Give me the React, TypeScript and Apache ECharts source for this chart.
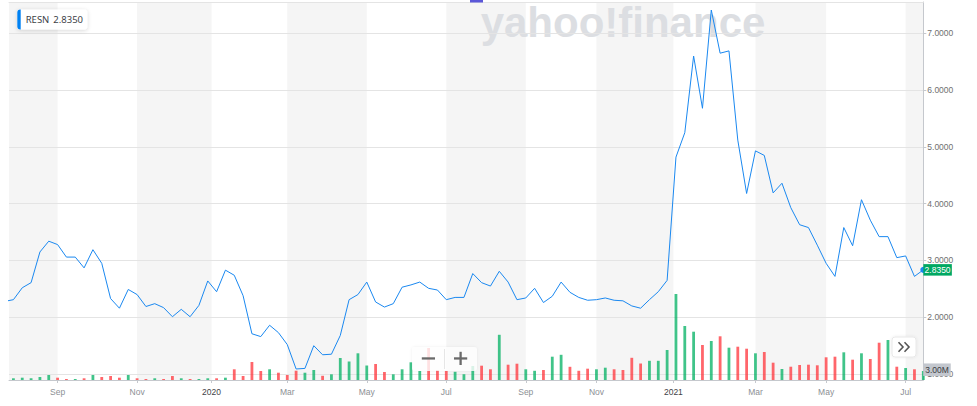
import React, { useEffect, useRef } from 'react';
import * as echarts from 'echarts';

const symbolName = 'RESN';

// weekly closes, index 0 = week just left of the visible range
const prices = [
  2.28,
  2.31, 2.52, 2.61, 3.15, 3.34, 3.28, 3.06, 3.06, 2.87, 3.19,
  2.95, 2.33, 2.16, 2.49, 2.40, 2.19, 2.24, 2.17, 2.01, 2.14,
  2.01, 2.21, 2.64, 2.45, 2.83, 2.74, 2.38, 1.71, 1.66, 1.86,
  1.73, 1.52, 1.09, 1.10, 1.50, 1.34, 1.35, 1.68, 2.31, 2.40,
  2.62, 2.27, 2.18, 2.24, 2.53, 2.57, 2.62, 2.51, 2.48, 2.31,
  2.35, 2.35, 2.77, 2.61, 2.55, 2.81, 2.62, 2.31, 2.34, 2.51,
  2.26, 2.37, 2.62, 2.44, 2.35, 2.30, 2.31, 2.34, 2.30, 2.29,
  2.20, 2.16, 2.31, 2.45, 2.65, 4.82, 5.25, 6.60, 5.68, 7.41,
  6.65, 6.69, 5.12, 4.18, 4.93, 4.85, 4.19, 4.36, 3.93, 3.63,
  3.58, 3.27, 2.95, 2.72, 3.58, 3.26, 4.07, 3.71, 3.42, 3.42,
  3.05, 3.08, 2.72, 2.835,
];

// weekly volume, millions
const volumes = [
  1.0,
  0.57, 0.77, 0.57, 1.0, 1.67, 0.77, 0.33, 0.33, 0.57,
  1.67, 1.0, 1.33, 0.77, 1.67, 0.57, 0.33, 0.57, 0.33, 1.33,
  0.57, 0.33, 0.33, 0.57, 0.57, 0.77, 3.57, 1.33, 6.0, 3.0,
  3.57, 2.43, 1.67, 3.1, 2.43, 3.33, 1.4, 1.9, 7.33, 6.17,
  8.9, 4.83, 5.33, 2.67, 1.9, 3.57, 5.9, 3.0, 10.67, 3.33,
  3.07, 2.73, 1.93, 4.67, 4.77, 3.57, 15.07, 5.1, 5.43, 3.57,
  3.07, 3.33, 7.77, 8.4, 4.4, 3.07, 3.77, 3.57, 4.1, 3.57,
  3.33, 7.4, 5.5, 6.4, 6.4, 10.0, 28.67, 18.0, 16.1, 11.67,
  13.0, 14.57, 10.77, 11.1, 10.43, 8.9, 9.33, 5.77, 3.67, 4.43,
  5.0, 5.1, 4.9, 7.57, 7.77, 9.23, 6.77, 8.9, 7.0, 12.43,
  13.33, 4.43, 4.0, 3.57, 3.0,
];

// u = up week (green volume), d = down week (red volume)
const moves = [
  'duuuuuddud', 'uddduddudd', 'uduududddd', 'uddduuduuu', 'uudduuuudd',
  'duuudduddu', 'uduuddduud', 'ddduuuuuud', 'ududduddud', 'dddddududd', 'ududu',
].join('').split('');

const xTickPos = [6, 15, 23.43, 32, 41, 50, 59, 67, 75.71, 85, 93, 102];
const xTickLabels = ['Sep', 'Nov', '2020', 'Mar', 'May', 'Jul', 'Sep', 'Nov', '2021', 'Mar', 'May', 'Jul'];
const yTicks = [1, 2, 3, 4, 5, 6, 7];

const X_MIN = 0.5;
const X_MAX = 104;
const FONT = '"Liberation Sans", Arial, sans-serif';
const UP = 'rgba(0,176,97,0.75)';
const DOWN = 'rgba(255,51,58,0.75)';
const LINE = '#1a88f0';

export default function App() {
  const ref = useRef<HTMLDivElement>(null);

  useEffect(() => {
    if (!ref.current) return;
    const chart = echarts.init(ref.current, null, { renderer: 'svg' });
    const lastIdx = prices.length - 1;
    const lastPrice = prices[lastIdx];
    const lastVol = volumes[lastIdx];

    const linePts: any[] = prices.map((p, i) =>
      i === lastIdx
        ? { value: [i, p], symbol: 'circle', symbolSize: 6, itemStyle: { color: LINE } }
        : [i, p]
    );
    const barPts = volumes
      .map((v, i) => ({
        value: [i, v],
        itemStyle: { color: moves[i] === 'u' ? UP : DOWN },
      }))
      .filter((d) => d.value[0] >= X_MIN);

    // shaded bands: every other period between month ticks, starting at the left edge
    const edges = [X_MIN, ...xTickPos, X_MAX];
    const bands: any[] = [];
    for (let i = 0; i + 1 < edges.length; i += 2) {
      bands.push([{ xAxis: edges[i] }, { xAxis: edges[i + 1] }]);
    }

    const option: any = {
      animation: false,
      grid: { left: 9, right: 53.7, top: 2, bottom: 26, containLabel: false },
      xAxis: [
        {
          type: 'value',
          min: X_MIN,
          max: X_MAX,
          axisLine: { show: true, lineStyle: { color: '#c5c8cd', width: 1 } },
          axisTick: { show: true, customValues: xTickPos, length: 3, lineStyle: { color: '#c5c8cd' } },
          axisLabel: {
            customValues: xTickPos,
            margin: 7,
            formatter: (v: number) => {
              const i = xTickPos.findIndex((t) => Math.abs(t - v) < 0.01);
              const s = i >= 0 ? xTickLabels[i] : '';
              return /^\d{4}$/.test(s) ? `{y|${s}}` : `{m|${s}}`;
            },
            rich: {
              m: { color: '#8c8f94', fontSize: 8.5, fontFamily: FONT },
              y: { color: '#3f4246', fontSize: 8.5, fontFamily: FONT },
            },
          },
          splitLine: { show: false },
        },
        {
          type: 'value',
          position: 'top',
          min: X_MIN,
          max: X_MAX,
          axisLine: { show: true, lineStyle: { color: '#e4e4e4' } },
          axisTick: { show: false },
          axisLabel: { show: false },
          splitLine: { show: false },
        },
      ],
      yAxis: [
        {
          type: 'value',
          position: 'right',
          min: 0.896,
          max: 7.551,
          axisLine: { show: true, lineStyle: { color: '#c5c8cd' } },
          axisTick: { show: true, customValues: yTicks, length: 3, lineStyle: { color: '#c5c8cd' } },
          axisLabel: {
            customValues: yTicks,
            formatter: (v: number) => v.toFixed(4),
            color: '#707070',
            fontSize: 8.5,
            fontFamily: FONT,
            margin: 4,
          },
          splitLine: { show: true, lineStyle: { color: '#e4e4e4', width: 1 } },
        },
        { type: 'value', min: 0, max: 126, show: false },
      ],
      series: [
        {
          name: 'bands',
          type: 'line',
          data: [],
          xAxisIndex: 0,
          yAxisIndex: 0,
          z: -2,
          silent: true,
          markArea: { silent: true, z: -2, itemStyle: { color: '#f5f5f5' }, data: bands },
        },
        {
          name: 'volume',
          type: 'bar',
          xAxisIndex: 0,
          yAxisIndex: 1,
          barWidth: 2.8,
          data: barPts,
          z: 2,
          markPoint: {
            symbol: 'rect',
            symbolSize: [27.5, 12.5],
            symbolOffset: [13.7, -1.3],
            itemStyle: { color: '#c3c7ce' },
            label: {
              show: true,
              position: 'inside',
              color: '#3a3d42',
              fontSize: 8.5,
              fontFamily: FONT,
              formatter: () => `${lastVol.toFixed(2)}M`,
            },
            data: [{ coord: [lastIdx, lastVol] }],
          },
        },
        {
          name: symbolName,
          type: 'line',
          xAxisIndex: 0,
          yAxisIndex: 0,
          symbol: 'none',
          data: linePts,
          lineStyle: { color: LINE, width: 1 },
          itemStyle: { color: LINE },
          z: 3,
          markPoint: {
            symbol: 'rect',
            symbolSize: [28.5, 11.5],
            symbolOffset: [14.3, 0],
            itemStyle: { color: '#00a862' },
            label: {
              show: true,
              position: 'inside',
              color: '#ffffff',
              fontSize: 8.5,
              fontFamily: FONT,
              formatter: () => lastPrice.toFixed(4),
            },
            data: [{ coord: [lastIdx, lastPrice] }],
          },
        },
      ],
      graphic: [
        {
          type: 'text',
          x: 623,
          y: 22,
          z: -1,
          silent: true,
          style: {
            text: 'yahoo!finance',
            fill: '#dcdee2',
            fontSize: 42,
            fontWeight: 'bold',
            fontFamily: FONT,
            align: 'center',
            verticalAlign: 'middle',
          },
        },
        { type: 'rect', z: 100, shape: { x: 470, y: 0, width: 13, height: 2.5 }, style: { fill: '#5b57d8' } },
        {
          type: 'rect',
          z: 100,
          shape: { x: 17.3, y: 9.4, width: 70, height: 20, r: 3 },
          style: { fill: '#ffffff', shadowBlur: 4, shadowColor: 'rgba(0,0,0,0.16)', shadowOffsetY: 1 },
        },
        {
          type: 'rect',
          z: 101,
          shape: { x: 17.3, y: 9.4, width: 3.4, height: 20, r: [3, 0, 0, 3] },
          style: { fill: '#0081f2' },
        },
        {
          type: 'text',
          z: 101,
          x: 25.7,
          y: 19.6,
          style: { text: symbolName, fill: '#3d4247', fontSize: 9.5, fontFamily: '"Noto Sans", sans-serif', verticalAlign: 'middle' },
        },
        {
          type: 'text',
          z: 101,
          x: 53.3,
          y: 19.6,
          style: { text: lastPrice.toFixed(4), fill: '#3d4247', fontSize: 9.5, fontFamily: '"Noto Sans", sans-serif', verticalAlign: 'middle' },
        },
        {
          type: 'rect',
          z: 100,
          shape: { x: 412, y: 347, width: 65, height: 24, r: 3 },
          style: { fill: 'rgba(255,255,255,0.8)', shadowBlur: 3, shadowColor: 'rgba(0,0,0,0.08)' },
        },
        { type: 'line', z: 101, shape: { x1: 444.5, y1: 349, x2: 444.5, y2: 369 }, style: { stroke: '#e6e6e6', lineWidth: 1 } },
        { type: 'rect', z: 101, shape: { x: 421.8, y: 357.3, width: 13.2, height: 2.3 }, style: { fill: '#6a6a6a' } },
        { type: 'rect', z: 101, shape: { x: 454, y: 357.3, width: 13.2, height: 2.3 }, style: { fill: '#6a6a6a' } },
        { type: 'rect', z: 101, shape: { x: 459.45, y: 351.8, width: 2.3, height: 13.2 }, style: { fill: '#6a6a6a' } },
        {
          type: 'rect',
          z: 100,
          shape: { x: 892, y: 337, width: 24, height: 20, r: 3 },
          style: { fill: '#ffffff', stroke: '#e8e8e8', lineWidth: 1, shadowBlur: 3, shadowColor: 'rgba(0,0,0,0.08)' },
        },
        {
          type: 'polyline',
          z: 101,
          shape: { points: [[898.5, 342.3], [903, 347], [898.5, 351.7]] },
          style: { stroke: '#555', lineWidth: 1.6, fill: 'none' },
        },
        {
          type: 'polyline',
          z: 101,
          shape: { points: [[904.5, 342.3], [909, 347], [904.5, 351.7]] },
          style: { stroke: '#555', lineWidth: 1.6, fill: 'none' },
        },
      ],
    };

    chart.setOption(option);
    return () => chart.dispose();
  }, []);

  return (
    <div
      ref={ref}
      style={{ position: 'fixed', left: 0, top: 0, width: 977, height: 406, background: '#ffffff' }}
    />
  );
}
